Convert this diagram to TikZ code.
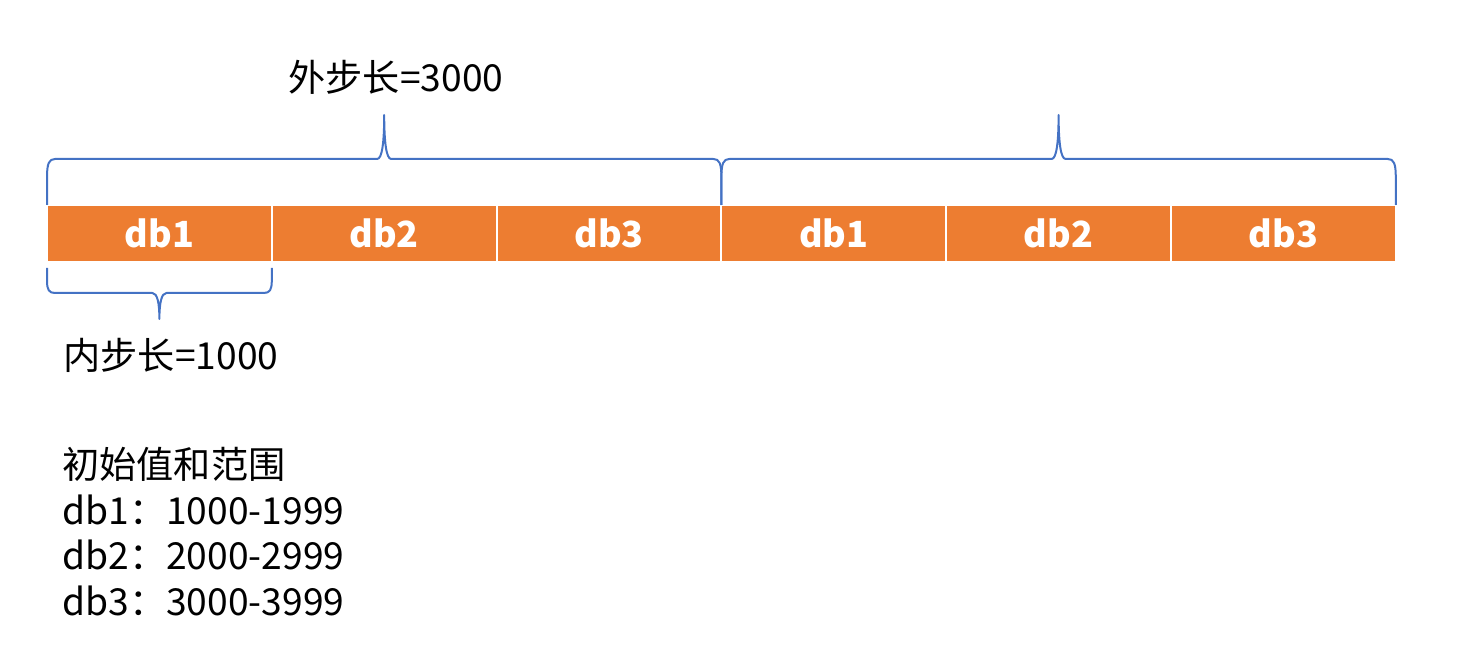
\documentclass[tikz,border=0pt]{standalone}
\usepackage{fontspec}
\setmainfont{Noto Sans CJK SC}
\usepackage{xcolor}
\usetikzlibrary{
  positioning,
  calc
}

\definecolor{barorange}{HTML}{ED7D31}
\definecolor{braceblue}{HTML}{4472C4}

\tikzset{
  cell/.style={fill=barorange, draw=white, line width=1pt, outer sep=0pt, inner sep=0pt,
    minimum width=112.4pt, minimum height=28.5pt, text=white,
    font=\bfseries\fontsize{18}{20}\selectfont},
  lbl/.style={inner sep=0pt, font=\fontsize{18.6}{22.75}\selectfont},
  brace/.style 2 args={draw=braceblue, line width=1pt, line join=round,
    to path={
      -- ($(\tikztostart)+(0,{0.6*(#1)})$)
      .. controls +(0,{0.3*(#1)}) and +(-6,0) .. ($(\tikztostart)+(8,#1)$)
      -- ($(\tikztostart)!.5!(\tikztotarget)+(-7,#1)$)
      .. controls +(5,0) and +(0,{-0.6*(#2-(#1))}) .. ($(\tikztostart)!.5!(\tikztotarget)+(0,#2)$)
      .. controls +(0,{-0.6*(#2-(#1))}) and +(-5,0) .. ($(\tikztostart)!.5!(\tikztotarget)+(7,#1)$)
      -- ($(\tikztotarget)+(-8,#1)$)
      .. controls +(6,0) and +(0,{0.3*(#1)}) .. ($(\tikztotarget)+(0,{0.6*(#1)})$)
      -- (\tikztotarget)
    }}
}

\begin{document}
\begin{tikzpicture}[x=0.5pt, y=0.5pt]
\useasboundingbox (0,0) rectangle (1464,652);

% the bar: two rounds of db1..db3
\node[cell] (a1) at (159.4,418.5) {db1};
\node[cell, right=0pt of a1] (a2) {db2};
\node[cell, right=0pt of a2] (a3) {db3};
\node[cell, right=0pt of a3] (b1) {db1};
\node[cell, right=0pt of b1] (b2) {db2};
\node[cell, right=0pt of b2] (b3) {db3};

% outer and inner step braces
\draw[brace={46}{90}] (a1.north west) to (a3.north east);
\draw[brace={46}{90}] (b1.north west) to (b3.north east);
\draw[brace={-31}{-57}, shorten <=3pt, shorten >=3pt] (a1.south west) to (a1.south east);

\node[lbl] (outer) at (396,575) {外步长=3000};
\node[lbl] (inner) at (171,297) {内步长=1000};

\node[lbl, anchor=north west, align=left] (ranges) at (62,205)
  {初始值和范围\\db1：1000-1999\\db2：2000-2999\\db3：3000-3999};
\end{tikzpicture}
\end{document}
